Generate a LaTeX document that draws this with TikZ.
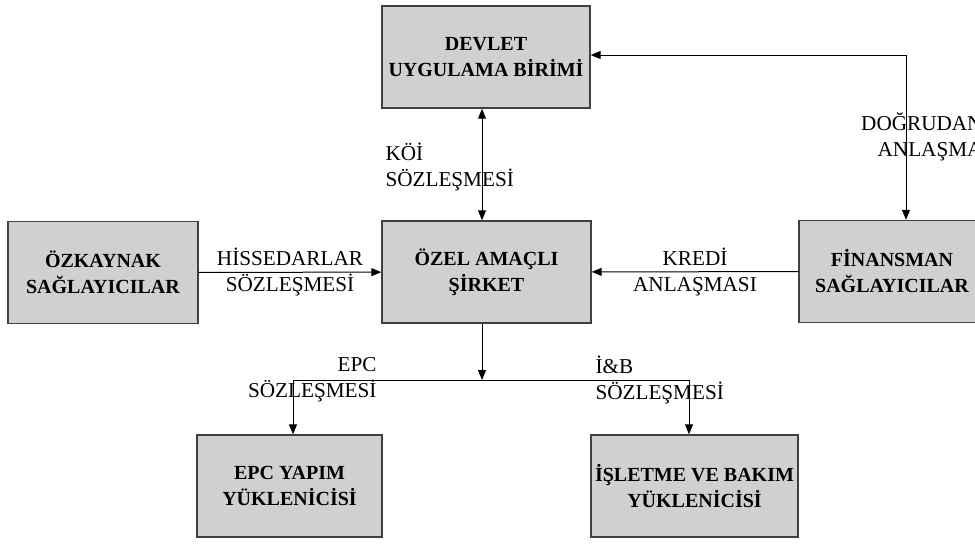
\documentclass[tikz,border=0pt]{standalone}
\usepackage{fontspec}
\setmainfont{Liberation Serif}
\usetikzlibrary{arrows.meta}
\usetikzlibrary{positioning}
\definecolor{boxfill}{RGB}{208,208,208}
\definecolor{boxline}{RGB}{64,64,64}
\tikzset{
  actor/.style={draw=boxline, line width=0.7pt, fill=boxfill, align=center,
    font=\fontsize{10}{13}\selectfont\bfseries, inner sep=0pt, minimum height=51pt},
  contract/.style={font=\fontsize{10.6}{13}\selectfont, inner sep=0pt},
}

\begin{document}
\begin{tikzpicture}[x=0.5pt, y=-0.5pt, line width=0.5pt, >={Triangle[length=5pt,width=4pt]}]
  \useasboundingbox (0,0) rectangle (975,543);

  \node [actor, minimum width=104pt] (dev) at (486,57) {DEVLET\\UYGULAMA BİRİMİ};
  \node [actor, minimum width=104.5pt] (spv) at (486.5,272) {ÖZEL AMAÇLI\\ŞİRKET};
  \node [actor, minimum width=95pt] (ozk) at (103,272.5) {ÖZKAYNAK\\SAĞLAYICILAR};
  \node [actor, minimum width=93pt] (fin) at (892,271.5) {FİNANSMAN\\SAĞLAYICILAR};
  \node [actor, minimum width=92.5pt] (epc) at (289.5,486) {EPC YAPIM\\YÜKLENİCİSİ};
  \node [actor, minimum width=103.5pt] (ib) at (694.5,486) {İŞLETME VE BAKIM\\YÜKLENİCİSİ};

  \coordinate (corner) at (906,55);
  \coordinate (split) at (482,380);
  \coordinate (epcin) at (293,380);
  \coordinate (ibin) at (689,380);

  % contract labels
  \node [contract, align=left, anchor=west] (koi) at (385,167) {KÖİ\\SÖZLEŞMESİ};
  \node [contract, align=right, anchor=east] (dogr) at (983,137) {DOĞRUDAN\\ANLAŞMA};
  \node [contract, align=right, anchor=east] (epcs) at (377,380) {EPC\\SÖZLEŞMESİ};
  \node [contract, align=left, anchor=west] (ibs) at (595,380) {İ\&B\\SÖZLEŞMESİ};

  \draw [<->] (dev.south -| split) -- (spv.north -| split);
  \draw [<->] (dev.east |- corner) -- (corner) -- (fin.north -| corner);
  \draw [->] (ozk) -- node [contract, align=center] {HİSSEDARLAR\\SÖZLEŞMESİ} (spv);
  \draw [->] (fin) -- node [contract, align=center] {KREDİ\\ANLAŞMASI} (spv);
  \draw [->] (spv.south -| split) -- (split);
  \draw (epcin) -- (ibin);
  \draw [->] (epcin) -- (epc.north -| epcin);
  \draw [->] (ibin) -- (ib.north -| ibin);
\end{tikzpicture}
\end{document}
